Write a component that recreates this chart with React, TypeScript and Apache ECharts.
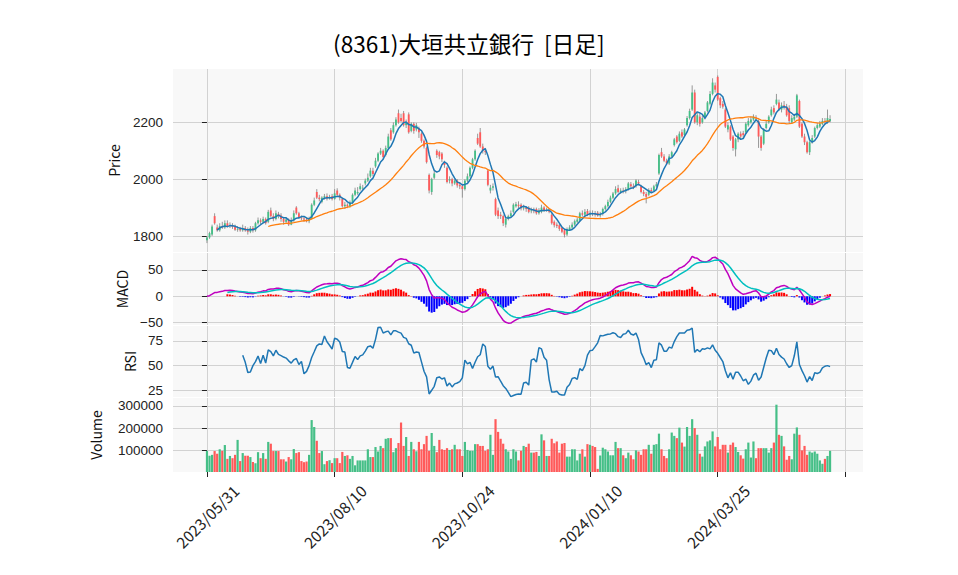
import React, { useEffect, useRef } from "react";
import * as echarts from "echarts";

const TITLE = "(8361)大垣共立銀行  [日足]";
const DATE_LABELS = ["2023/05/31", "2023/08/10", "2023/10/24", "2024/01/10", "2024/03/25"];
const LABEL_IDX = [0, 50, 100, 150, 200];
const TICK_IDX = [0, 50, 100, 150, 200, 250];
const PRICE_TICKS = [1800, 2000, 2200];
const MACD_TICKS = [-50, 0, 50];
const RSI_TICKS = [25, 50, 75];
const VOL_TICKS = [100000, 200000, 300000];

const OPEN = [
1785,1795,1805,1870,1830,1820,1835,1830,1845,1835,1838,1832,1822,1825,1820,1828,1820,1815,1828,1820,
1845,1855,1850,1860,1850,1890,1870,1860,1878,1872,1860,1850,1858,1840,1855,1900,1880,1865,1862,1858,
1852,1860,1910,1955,1935,1920,1935,1940,1932,1940,1930,1960,1945,1930,1905,1910,1905,1915,1945,1950,
1965,1968,1985,1995,2010,2030,2045,2065,2090,2100,2085,2110,2172,2165,2190,2232,2215,2232,2190,2228,
2170,2195,2175,2180,2160,2135,2110,2015,1955,2005,2100,2095,2090,2060,2040,1995,2000,1985,1995,1980,
1975,1965,1995,2010,2040,2070,2145,2165,2115,2100,2030,1960,1970,1930,1890,1875,1870,1840,1860,1870,
1885,1905,1910,1910,1898,1900,1900,1888,1890,1895,1880,1885,1900,1890,1890,1875,1850,1840,1838,1828,
1820,1805,1822,1830,1840,1850,1855,1880,1875,1888,1875,1880,1878,1882,1872,1878,1895,1905,1920,1935,
1950,1968,1955,1960,1958,1965,1982,1975,1975,1990,1975,1955,1948,1945,1962,1960,1975,2020,2095,2080,
2065,2055,2080,2120,2150,2135,2165,2155,2190,2215,2245,2305,2200,2220,2200,2215,2240,2265,2300,2330,
2360,2285,2265,2245,2175,2185,2150,2105,2140,2160,2162,2165,2190,2200,2210,2218,2205,2150,2125,2180,
2200,2225,2250,2265,2270,2245,2260,2255,2250,2200,2210,2220,2275,2195,2150,2130,2095,2130,2150,2180,
2185,2195,2205,2200,2205];

const CLOSE = [
1795,1810,1833,1845,1820,1835,1830,1845,1835,1838,1832,1822,1825,1820,1828,1820,1815,1828,1820,1845,
1855,1850,1860,1845,1885,1870,1860,1880,1872,1860,1850,1858,1840,1855,1880,1880,1865,1862,1858,1852,
1860,1910,1925,1935,1930,1935,1940,1932,1938,1930,1950,1945,1935,1905,1910,1905,1918,1945,1960,1955,
1975,1970,1995,2005,2030,2018,2065,2090,2100,2078,2110,2150,2140,2190,2210,2200,2205,2190,2200,2165,
2195,2170,2190,2165,2135,2115,2060,1960,2000,2020,2085,2080,2070,2050,1990,2000,1985,1995,1978,1975,
1965,1995,2010,2040,2070,2100,2125,2115,2100,2095,1980,1970,1975,1875,1870,1870,1845,1860,1870,1880,
1910,1912,1905,1898,1900,1895,1885,1890,1888,1880,1890,1900,1890,1892,1885,1845,1838,1835,1825,1815,
1805,1825,1830,1840,1852,1858,1880,1875,1885,1875,1880,1878,1875,1872,1878,1895,1905,1920,1935,1950,
1965,1955,1960,1955,1965,1985,1975,1970,1995,1985,1955,1948,1938,1962,1958,1975,1982,2085,2080,2065,
2055,2080,2095,2140,2130,2160,2150,2175,2215,2240,2305,2200,2225,2195,2215,2235,2270,2300,2340,2315,
2280,2260,2255,2185,2190,2140,2110,2140,2160,2150,2155,2195,2205,2210,2220,2215,2150,2110,2175,2195,
2220,2245,2235,2280,2245,2260,2255,2225,2205,2215,2220,2295,2185,2150,2130,2095,2130,2145,2180,2190,
2195,2205,2200,2215,2212];

const HIGH = [
1800,1815,1840,1880,1840,1845,1850,1855,1855,1848,1845,1840,1835,1832,1840,1835,1830,1835,1835,1850,
1865,1862,1868,1865,1892,1900,1880,1890,1885,1880,1865,1865,1862,1865,1890,1905,1885,1872,1870,1865,
1868,1915,1935,1965,1945,1940,1948,1950,1945,1948,1965,1968,1950,1935,1920,1915,1925,1950,1970,1972,
1985,1980,2002,2020,2040,2040,2075,2095,2110,2105,2118,2160,2180,2200,2218,2245,2230,2240,2210,2235,
2200,2200,2198,2185,2165,2140,2115,2020,2005,2030,2105,2100,2095,2065,2045,2010,2005,2000,2000,1990,
1980,2000,2020,2045,2075,2105,2160,2180,2125,2110,2035,1980,1985,1935,1900,1885,1875,1865,1875,1890,
1915,1920,1922,1915,1910,1905,1905,1900,1900,1900,1898,1910,1905,1900,1898,1880,1855,1848,1842,1832,
1822,1830,1838,1848,1858,1865,1885,1890,1895,1895,1890,1890,1888,1888,1885,1900,1910,1928,1942,1955,
1975,1980,1968,1970,1972,1990,1990,1985,2000,1998,1980,1962,1955,1968,1970,1980,1990,2090,2110,2088,
2072,2088,2100,2145,2155,2168,2175,2180,2222,2248,2330,2315,2235,2230,2225,2240,2275,2310,2355,2340,
2365,2290,2275,2250,2200,2190,2155,2145,2165,2168,2170,2200,2215,2220,2228,2225,2210,2155,2180,2205,
2225,2255,2260,2300,2280,2270,2275,2265,2260,2225,2230,2300,2280,2200,2160,2135,2135,2155,2185,2198,
2205,2215,2215,2245,2225];

const LOW = [
1775,1790,1800,1840,1815,1815,1825,1825,1830,1828,1825,1818,1815,1815,1815,1815,1805,1810,1812,1815,
1840,1842,1845,1840,1845,1865,1852,1855,1862,1850,1840,1845,1835,1838,1850,1875,1860,1855,1850,1848,
1845,1858,1905,1930,1922,1915,1928,1925,1928,1925,1928,1940,1925,1900,1895,1898,1900,1912,1940,1945,
1960,1962,1978,1990,2005,2010,2040,2060,2085,2070,2080,2105,2135,2160,2185,2195,2200,2185,2180,2160,
2165,2160,2168,2145,2128,2108,2055,1950,1945,2000,2075,2070,2060,2040,1985,1985,1975,1980,1970,1965,
1935,1960,1990,2005,2035,2065,2120,2110,2090,2085,1975,1950,1960,1870,1860,1860,1835,1830,1855,1865,
1880,1900,1898,1890,1890,1885,1880,1880,1880,1875,1875,1880,1885,1885,1880,1840,1830,1828,1818,1810,
1795,1800,1818,1825,1835,1845,1850,1868,1870,1870,1868,1870,1868,1868,1865,1872,1890,1900,1915,1930,
1945,1950,1948,1950,1950,1960,1970,1965,1970,1978,1950,1940,1915,1940,1952,1955,1970,2015,2075,2060,
2050,2050,2075,2115,2125,2130,2145,2150,2185,2210,2240,2195,2190,2185,2195,2210,2235,2260,2295,2305,
2275,2250,2248,2180,2165,2135,2100,2080,2130,2140,2145,2160,2185,2195,2205,2205,2110,2100,2120,2175,
2195,2220,2228,2260,2240,2235,2245,2220,2195,2195,2205,2215,2180,2145,2120,2090,2085,2125,2145,2175,
2180,2190,2195,2195,2200];

const VOLUME = [
98000,76000,80000,97000,85000,105000,98000,124000,62000,75000,
65000,80000,147000,52000,88000,76000,76000,70000,48000,42000,
92000,65000,88000,62000,138000,130000,97000,97000,97000,60000,
60000,50000,70000,60000,106000,88000,92000,52000,47000,50000,
80000,236000,205000,143000,88000,97000,38000,52000,56000,43000,
65000,65000,43000,93000,75000,78000,62000,75000,33000,55000,
55000,55000,55000,105000,70000,70000,115000,95000,120000,110000,
152000,155000,155000,92000,110000,133000,225000,120000,160000,75000,
138000,105000,96000,138000,105000,128000,165000,98000,178000,120000,
92000,147000,105000,102000,110000,102000,105000,125000,105000,105000,
75000,138000,102000,98000,98000,128000,128000,120000,120000,98000,
105000,170000,80000,240000,183000,152000,
130000,105000,95000,62000,105000,95000,55000,98000,120000,115000,
130000,90000,90000,93000,75000,172000,145000,75000,75000,152000,
132000,140000,90000,130000,133000,72000,72000,105000,105000,55000,
85000,105000,72000,128000,125000,120000,115000,17000,77000,112000,
105000,95000,78000,78000,138000,110000,110000,78000,65000,90000,
78000,60000,100000,95000,80000,105000,105000,125000,85000,125000,
128000,175000,105000,75000,65000,105000,180000,165000,155000,202000,
135000,117000,205000,165000,240000,200000,170000,85000,72000,118000,
140000,145000,185000,118000,160000,105000,125000,125000,90000,125000,
135000,115000,93000,78000,63000,105000,135000,68000,140000,65000,
110000,110000,110000,110000,90000,110000,135000,305000,170000,165000,
118000,58000,75000,60000,175000,203000,170000,100000,120000,80000,
95000,90000,95000,85000,55000,40000,62000,75000,98000];

const UP = "#45bf87";
const DOWN = "#ff5a5a";
const FONT = "'Noto Sans CJK JP', 'Noto Sans', sans-serif";
const TICK_FONT = "'Liberation Sans', Arial, sans-serif";

function sma(a: number[], n: number): (number | null)[] {
  return a.map((_, i) => {
    if (i < n - 1) return null;
    let s = 0;
    for (let k = i - n + 1; k <= i; k++) s += a[k];
    return s / n;
  });
}
function ema(a: number[], span: number): number[] {
  const al = 2 / (span + 1);
  const out: number[] = [];
  a.forEach((v, i) => out.push(i === 0 ? v : al * v + (1 - al) * out[i - 1]));
  return out;
}
function rsi(a: number[], n: number): (number | null)[] {
  return a.map((_, i) => {
    if (i < n) return null;
    let g = 0, l = 0;
    for (let k = i - n + 1; k <= i; k++) {
      const d = a[k] - a[k - 1];
      if (d > 0) g += d; else l -= d;
    }
    if (l === 0) return 100;
    return 100 - 100 / (1 + g / l);
  });
}

const pts = (arr: (number | null)[], from = 0) =>
  arr.map((v, i) => [i, v]).filter((p) => p[1] !== null && (p[0] as number) >= from);

export default function App() {
  const ref = useRef<HTMLDivElement>(null);
  useEffect(() => {
    const chart = echarts.init(ref.current!, null, { renderer: "svg" });
    const n = CLOSE.length;
    const ma5 = sma(CLOSE, 5);
    const ma25 = sma(CLOSE, 25);
    const e12 = ema(CLOSE, 12);
    const e26 = ema(CLOSE, 26);
    const macd = CLOSE.map((_, i) => e12[i] - e26[i]);
    const sig = ema(macd, 9);
    const hist = macd.map((m, i) => m - sig[i]);
    const rs = rsi(CLOSE, 14);
    const XMIN = -13.3, XMAX = 256.9;
    const gridBase = { left: 173, width: 690, show: true, backgroundColor: "#f8f8f8", borderWidth: 0 };
    const splitLine = { show: true, lineStyle: { color: "#d2d2d2", width: 1 } };
    const mkX = (gi: number, labels: boolean) => ({
      type: "value", gridIndex: gi, min: XMIN, max: XMAX,
      axisLine: { show: false },
      splitLine,
      axisTick: labels
        ? { show: true, customValues: TICK_IDX, length: 5, lineStyle: { color: "#222" } }
        : { show: false, customValues: TICK_IDX },
      axisLabel: labels
        ? {
            show: true, customValues: LABEL_IDX, rotate: 45, align: "center", verticalAlign: "middle",
            margin: 44, fontSize: 15.5, color: "#222", fontFamily: FONT,
            formatter: (v: number) => DATE_LABELS[LABEL_IDX.indexOf(Math.round(v))] ?? "",
          }
        : { show: false, customValues: TICK_IDX },
    });
    const mkY = (gi: number, min: number, max: number, ticks: number[], name: string, gap: number) => ({
      type: "value", gridIndex: gi, min, max, scale: true,
      name, nameLocation: "middle", nameGap: gap, nameRotate: 90,
      nameTextStyle: { fontSize: 14, color: "#111", fontFamily: FONT },
      axisLine: { show: false },
      splitLine,
      axisTick: { show: true, customValues: ticks, length: 5, lineStyle: { color: "#222" } },
      axisLabel: {
        show: true, customValues: ticks, margin: 10, fontSize: 13.5, lineHeight: 13, color: "#222", fontFamily: TICK_FONT,
        formatter: (v: number) => (v < 0 ? "\u2212" + Math.abs(v) : String(v)),
      },
    });
    const candleData = CLOSE.map((c, i) => [i, OPEN[i], c, LOW[i], HIGH[i]]);
    const option: any = {
      animation: false,
      backgroundColor: "#ffffff",
      graphic: [
        { type: "text", left: 333, top: 32, style: { text: TITLE, fontSize: 22.6, fill: "#000", fontFamily: FONT } },
      ],
      grid: [
        { ...gridBase, top: 69, height: 183 },
        { ...gridBase, top: 253, height: 72 },
        { ...gridBase, top: 326, height: 71 },
        { ...gridBase, top: 398, height: 74 },
      ],
      xAxis: [mkX(0, false), mkX(1, false), mkX(2, false), mkX(3, true)],
      yAxis: [
        mkY(0, 1743.7, 2387.7, PRICE_TICKS, "Price", 52),
        mkY(1, -54.4, 82, MACD_TICKS, "MACD", 42),
        mkY(2, 18.2, 90.2, RSI_TICKS, "RSI", 35),
        mkY(3, 3000, 335000, VOL_TICKS, "Volume", 70),
      ],
      series: [
        {
          type: "custom", xAxisIndex: 0, yAxisIndex: 0, clip: true, z: 3,
          data: candleData, encode: { x: 0, y: [1, 2, 3, 4] },
          renderItem: (params: any, api: any) => {
            const i = api.value(0), o = api.value(1), c = api.value(2), l = api.value(3), h = api.value(4);
            const pO = api.coord([i, o]), pC = api.coord([i, c]), pL = api.coord([i, l]), pH = api.coord([i, h]);
            const w = api.size([1, 0])[0] * 0.72;
            const col = c >= o ? UP : DOWN;
            const top = Math.min(pO[1], pC[1]);
            const ht = Math.max(Math.abs(pO[1] - pC[1]), 0.8);
            return {
              type: "group",
              children: [
                { type: "line", shape: { x1: pH[0], y1: pH[1], x2: pL[0], y2: pL[1] }, style: { stroke: "#8c8c8c", lineWidth: 0.9 } },
                { type: "rect", shape: { x: pO[0] - w / 2, y: top, width: w, height: ht }, style: { fill: col } },
              ],
            };
          },
        },
        { type: "line", xAxisIndex: 0, yAxisIndex: 0, data: pts(ma5), showSymbol: false, symbol: "none", z: 4,
          lineStyle: { color: "#1f77b4", width: 1.5 }, itemStyle: { color: "#1f77b4" } },
        { type: "line", xAxisIndex: 0, yAxisIndex: 0, data: pts(ma25), showSymbol: false, symbol: "none", z: 4,
          lineStyle: { color: "#ff7f0e", width: 1.3 }, itemStyle: { color: "#ff7f0e" } },
        { type: "bar", xAxisIndex: 1, yAxisIndex: 1, barWidth: 2, z: 2,
          data: hist.map((h, i) => (i < 8 ? null : { value: [i, h], itemStyle: { color: h >= 0 ? "#ff0000" : "#0000ff" } })).filter((d) => d) },
        { type: "line", xAxisIndex: 1, yAxisIndex: 1, data: pts(macd), showSymbol: false, symbol: "none", z: 4,
          lineStyle: { color: "#bf00bf", width: 1.5 }, itemStyle: { color: "#bf00bf" } },
        { type: "line", xAxisIndex: 1, yAxisIndex: 1, data: pts(sig, 8), showSymbol: false, symbol: "none", z: 4,
          lineStyle: { color: "#00bfbf", width: 1.5 }, itemStyle: { color: "#00bfbf" } },
        { type: "line", xAxisIndex: 2, yAxisIndex: 2, data: pts(rs), showSymbol: false, symbol: "none", z: 4,
          lineStyle: { color: "#1f77b4", width: 1.5 }, itemStyle: { color: "#1f77b4" } },
        { type: "bar", xAxisIndex: 3, yAxisIndex: 3, barWidth: 2.2, z: 2,
          data: VOLUME.slice(0, n).map((v, i) => ({ value: [i, v], itemStyle: { color: CLOSE[i] >= OPEN[i] ? UP : DOWN } })) },
      ],
    };
    chart.setOption(option);
    return () => chart.dispose();
  }, []);
  return <div ref={ref} style={{ position: "absolute", left: 0, top: 0, width: 958, height: 575 }} />;
}
